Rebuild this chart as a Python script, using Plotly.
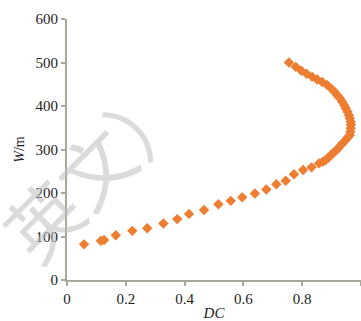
import plotly.graph_objects as go

dc = [0.058, 0.115, 0.126, 0.166, 0.222, 0.273, 0.328, 0.375, 0.415, 0.466,
      0.515, 0.557, 0.596, 0.639, 0.678, 0.712, 0.744, 0.772, 0.803, 0.832,
      0.857, 0.870, 0.880, 0.889, 0.897, 0.906, 0.914, 0.923, 0.931, 0.940,
      0.948, 0.955, 0.962, 0.964, 0.965, 0.966, 0.965, 0.962, 0.959, 0.954,
      0.948, 0.943, 0.936, 0.928, 0.919, 0.911, 0.902, 0.885, 0.868, 0.851,
      0.834, 0.815, 0.797, 0.778, 0.755]
w = [82, 90, 92, 103, 113, 119, 130, 140, 152, 161,
     174, 182, 190, 199, 208, 220, 228, 243, 253, 259,
     268, 272, 276, 281, 287, 292, 297, 303, 310, 316,
     322, 328, 333, 341, 349, 357, 364, 372, 379, 387,
     395, 402, 410, 418, 425, 432, 438, 448, 455, 461,
     467, 474, 481, 490, 500]

x_ticks = [0, 0.2, 0.4, 0.6, 0.8, 1]
x_labels = ["0", "0.2", "0.4", "0.6", "0.8", "1"]
y_ticks = [0, 100, 200, 300, 400, 500, 600]

axis_col = "#a9a99b"
font_fam = "Liberation Serif, Times New Roman, serif"

fig = go.Figure()
fig.add_trace(go.Scatter(
    x=dc, y=w, mode="markers",
    marker=dict(symbol="diamond", size=8, color="#ED7D31", line=dict(width=0)),
    showlegend=False,
))

fig.add_annotation(
    text="英文）", xref="paper", yref="paper", x=0.09, y=0.44,
    xanchor="center", yanchor="middle",
    showarrow=False, textangle=-45,
    font=dict(size=74, color="rgba(190,190,190,0.55)", family="Noto Sans CJK SC"),
)

fig.update_layout(
    width=361, height=321,
    margin=dict(l=67, r=0, t=19, b=41),
    paper_bgcolor="white", plot_bgcolor="white",
    font=dict(family=font_fam, size=15, color="#222"),
    xaxis=dict(
        range=[0, 1], tickvals=x_ticks, ticktext=x_labels,
        showgrid=False, zeroline=False, showline=True, linecolor=axis_col, linewidth=2,
        ticks="outside", ticklen=4, tickcolor=axis_col, tickwidth=1.5,
        title=dict(text="<i>DC</i>", font=dict(size=15), standoff=2),
        tickfont=dict(size=15),
    ),
    yaxis=dict(
        range=[0, 600], tickvals=y_ticks,
        showgrid=False, zeroline=False, showline=True, linecolor=axis_col, linewidth=2,
        ticks="outside", ticklen=4, tickcolor=axis_col, tickwidth=1.5,
        title=dict(text="<i>W</i>/m", font=dict(size=14), standoff=8),
        tickfont=dict(size=15),
    ),
)

fig.write_html("out.html")
